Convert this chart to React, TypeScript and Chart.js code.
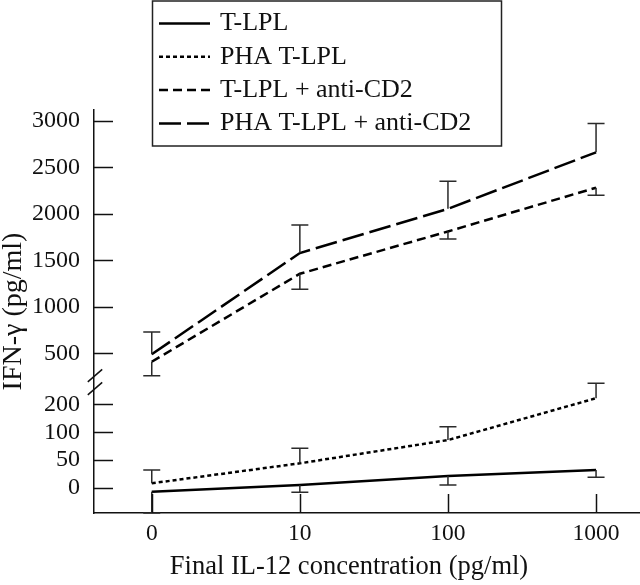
import React, { useEffect, useRef } from 'react';
import { Chart, registerables, LinearScale } from 'chart.js';

Chart.register(...registerables);

// ---- data ----
const X_LABELS = ['0', '10', '100', '1000'];
const X_TITLE = 'Final IL-12 concentration (pg/ml)';
const Y_TITLE = 'IFN-γ (pg/ml)';
const SERIES_NAMES = ['T-LPL', 'PHA T-LPL', 'T-LPL + anti-CD2', 'PHA T-LPL + anti-CD2'];
const T_LPL = [-7, 5, 21, 32];
const T_LPL_ERR_END = [-45, -8, 5, 19];
const PHA_T_LPL = [8, 44, 86, 211];
const PHA_T_LPL_ERR_END = [32, 71, 120, 238];
const T_LPL_CD2 = [410, 1355, 1810, 2280];
const T_LPL_CD2_ERR_END = [260, 1190, 1730, 2200];
const PHA_T_LPL_CD2 = [490, 1578, 2053, 2660];
const PHA_T_LPL_CD2_ERR_END = [730, 1880, 2350, 2970];
const Y_TICKS = [0, 50, 100, 200, 500, 1000, 1500, 2000, 2500, 3000];

// broken-axis scale definition: [value, relative position]
const Y_KNOTS: [number, number][] = [
  [-45, 0],
  [0, 25.3],
  [50, 53],
  [100, 80.7],
  [200, 108.7],
  [250, 136.4],
  [3115, 403],
];
const Y_BREAK_VALUE = 240;

const FONT = "'Liberation Serif', 'Times New Roman', serif";
const INK = '#111';

class BrokenLinearScale extends LinearScale {
  static id = 'brokenLinear';
  static defaults = (LinearScale as any).defaults;

  toDecimal(v: number) {
    const k = Y_KNOTS;
    const p0 = k[0][1];
    const total = k[k.length - 1][1] - p0;
    for (let i = 1; i < k.length; i++) {
      if (v <= k[i][0] || i === k.length - 1) {
        const [va, pa] = k[i - 1];
        const [vb, pb] = k[i];
        return (pa + ((v - va) / (vb - va)) * (pb - pa) - p0) / total;
      }
    }
    return 0;
  }

  getPixelForValue(value: any) {
    if (value === null || value === undefined || isNaN(value)) return NaN;
    return (this as any).getPixelForDecimal(this.toDecimal(+value));
  }

  getValueForPixel(pixel: number) {
    const dec = (this as any).getDecimalForPixel(pixel);
    const k = Y_KNOTS;
    const p0 = k[0][1];
    const total = k[k.length - 1][1] - p0;
    const p = p0 + dec * total;
    for (let i = 1; i < k.length; i++) {
      if (p <= k[i][1] || i === k.length - 1) {
        const [va, pa] = k[i - 1];
        const [vb, pb] = k[i];
        return va + ((p - pa) / (pb - pa)) * (vb - va);
      }
    }
    return 0;
  }
}
Chart.register(BrokenLinearScale as any);

const decorPlugin = {
  id: 'decor',
  afterDatasetsDraw(chart: any) {
    const { ctx } = chart;
    const y = chart.scales.y;
    ctx.save();
    ctx.strokeStyle = '#2a2a2a';
    ctx.lineWidth = 1.5;
    ctx.setLineDash([]);
    chart.data.datasets.forEach((ds: any, di: number) => {
      const meta = chart.getDatasetMeta(di);
      (ds.errorEnds as number[]).forEach((e, i) => {
        const pt = meta.data[i];
        if (!pt) return;
        const ye = y.getPixelForValue(e);
        ctx.beginPath();
        ctx.moveTo(pt.x, pt.y);
        ctx.lineTo(pt.x, ye);
        ctx.moveTo(pt.x - 8.5, ye);
        ctx.lineTo(pt.x + 8.5, ye);
        ctx.stroke();
      });
    });
    ctx.restore();
  },
  afterDraw(chart: any) {
    const { ctx, chartArea } = chart;
    const x = chart.scales.x;
    const y = chart.scales.y;
    ctx.save();
    ctx.strokeStyle = INK;
    ctx.lineWidth = 1.5;
    ctx.setLineDash([]);
    // inward tick marks
    y.ticks.forEach((t: any) => {
      const py = Math.round(y.getPixelForValue(t.value)) + 0.5;
      ctx.beginPath();
      ctx.moveTo(chartArea.left, py);
      ctx.lineTo(chartArea.left + 19, py);
      ctx.stroke();
    });
    x.ticks.forEach((t: any) => {
      const px = Math.round(x.getPixelForValue(t.value)) + 0.5;
      ctx.beginPath();
      ctx.moveTo(px, chartArea.bottom);
      ctx.lineTo(px, chartArea.bottom - 19);
      ctx.stroke();
    });
    // axis break marks
    const by = y.getPixelForValue(Y_BREAK_VALUE);
    const bx = chartArea.left + 1;
    [-6.5, 6.5].forEach((off) => {
      ctx.beginPath();
      ctx.moveTo(bx - 7.2, by + off + 6.2);
      ctx.lineTo(bx + 7.2, by + off - 6.2);
      ctx.stroke();
    });
    // x-axis title
    ctx.fillStyle = INK;
    ctx.font = `26.5px ${FONT}`;
    ctx.textAlign = 'center';
    ctx.textBaseline = 'middle';
    ctx.fillText(X_TITLE, 349, 567);
    // legend box
    ctx.lineWidth = 1.5;
    ctx.strokeStyle = '#222';
    ctx.strokeRect(152.5, 1, 349, 145);
    ctx.font = `26px ${FONT}`;
    ctx.textBaseline = 'middle';
    ctx.textAlign = 'left';
    chart.data.datasets.forEach((ds: any, i: number) => {
      const ry = 23.5 + i * 33.3;
      ctx.save();
      ctx.strokeStyle = '#000';
      ctx.lineWidth = ds.borderWidth;
      ctx.setLineDash(ds.borderDash || []);
      ctx.beginPath();
      ctx.moveTo(159, ry);
      ctx.lineTo(210, ry);
      ctx.stroke();
      ctx.restore();
      ctx.fillText(ds.label, 220, ry);
    });
    ctx.restore();
  },
};

export default function App() {
  const canvasRef = useRef<HTMLCanvasElement | null>(null);

  useEffect(() => {
    const canvas = canvasRef.current;
    if (!canvas) return;
    const mk = (vals: number[]) => vals.map((v, i) => ({ x: i, y: v }));
    const base = { borderColor: '#000', borderWidth: 2.5, pointRadius: 0, tension: 0, fill: false };
    const chart = new Chart(canvas, {
      type: 'line',
      data: {
        datasets: [
          { ...base, label: SERIES_NAMES[0], data: mk(T_LPL), borderDash: [], errorEnds: T_LPL_ERR_END },
          { ...base, label: SERIES_NAMES[1], data: mk(PHA_T_LPL), borderDash: [4, 3], errorEnds: PHA_T_LPL_ERR_END },
          { ...base, label: SERIES_NAMES[2], data: mk(T_LPL_CD2), borderDash: [9, 5], errorEnds: T_LPL_CD2_ERR_END },
          { ...base, label: SERIES_NAMES[3], data: mk(PHA_T_LPL_CD2), borderDash: [22, 6], errorEnds: PHA_T_LPL_CD2_ERR_END },
        ] as any,
      },
      options: {
        animation: false,
        responsive: false,
        maintainAspectRatio: false,
        layout: { padding: { top: 110, right: 1, left: 0, bottom: 0 } },
        plugins: { legend: { display: false }, tooltip: { enabled: false }, title: { display: false } },
        scales: {
          x: {
            type: 'linear',
            min: -0.39,
            max: 3.29,
            afterBuildTicks: (s: any) => {
              s.ticks = X_LABELS.map((_, i) => ({ value: i }));
            },
            afterFit: (s: any) => {
              s.height = 72;
            },
            grid: { display: true, drawOnChartArea: false, drawTicks: false },
            border: { display: true, color: INK, width: 1.5 },
            ticks: {
              autoSkip: false,
              padding: 7,
              color: INK,
              font: { family: FONT, size: 23.5 },
              callback: (v: any) => X_LABELS[Math.round(v)] ?? '',
            },
            title: { display: false },
          },
          y: {
            type: 'brokenLinear' as any,
            min: -45,
            max: 3115,
            afterBuildTicks: (s: any) => {
              s.ticks = Y_TICKS.map((v) => ({ value: v }));
            },
            afterFit: (s: any) => {
              s.width = 94;
            },
            grid: { display: true, drawOnChartArea: false, drawTicks: false },
            border: { display: true, color: INK, width: 1.5 },
            ticks: {
              autoSkip: false,
              padding: 14,
              color: INK,
              font: { family: FONT, size: 24 },
              callback: (v: any) => String(v),
            },
            title: {
              display: true,
              text: Y_TITLE,
              color: INK,
              font: { family: FONT, size: 28, lineHeight: 1 },
              padding: 0,
            },
          } as any,
        },
      },
      plugins: [decorPlugin],
    });
    return () => chart.destroy();
  }, []);

  return (
    <div style={{ position: 'fixed', left: 0, top: 0, width: 640, height: 585, background: '#fff' }}>
      <canvas ref={canvasRef} width={640} height={585} style={{ display: 'block' }} />
    </div>
  );
}
